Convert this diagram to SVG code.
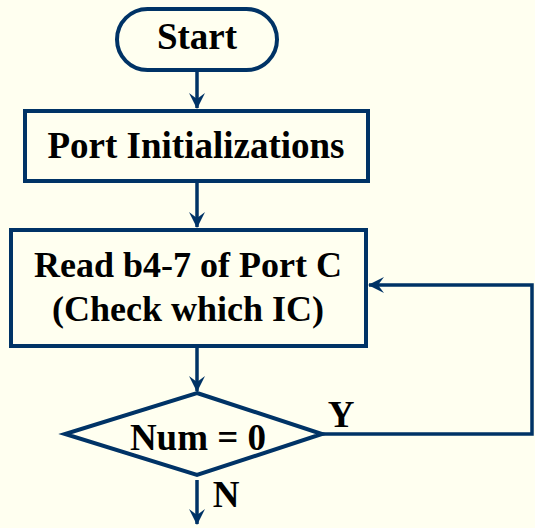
<svg xmlns="http://www.w3.org/2000/svg" width="535" height="528" viewBox="0 0 535 528">
  <style>
    .shape { fill: #FFFFF0; stroke: #003366; stroke-width: 4; }
    .wire { fill: none; stroke: #003366; stroke-width: 3.5; }
    .label { font-family: "Liberation Serif", "Times New Roman", serif; font-weight: bold; font-size: 37px; fill: #000; }
    .small { font-size: 36px; }
  </style>
  <defs>
    <marker id="arrow" markerUnits="userSpaceOnUse" markerWidth="20" markerHeight="20" viewBox="-16 -10 18 20" refX="0" refY="0" orient="auto">
      <path d="M1,0 L-15,-8 L-9,0 L-15,8 Z" fill="#003366"/>
    </marker>
  </defs>
  <rect width="535" height="528" fill="#FFFFF0"/>

  <g id="connectors">
    <line class="wire" x1="197" y1="70" x2="197" y2="108" marker-end="url(#arrow)"/>
    <line class="wire" x1="197" y1="181" x2="197" y2="227" marker-end="url(#arrow)"/>
    <line class="wire" x1="197" y1="346" x2="197" y2="391" marker-end="url(#arrow)"/>
    <line class="wire" x1="197" y1="480" x2="197" y2="524" marker-end="url(#arrow)"/>
    <polyline class="wire" points="322,434 532,434 532,285 369,285" marker-end="url(#arrow)"/>
  </g>

  <g id="start">
    <rect class="shape" x="117" y="9" width="160" height="61" rx="30.5" ry="30.5" stroke-width="3.5"/>
    <text class="label" x="197" y="49" text-anchor="middle">Start</text>
  </g>

  <g id="port-init">
    <rect class="shape" x="25" y="111" width="343" height="70"/>
    <text class="label" x="196" y="158" text-anchor="middle">Port Initializations</text>
  </g>

  <g id="read-port">
    <rect class="shape" x="11" y="230" width="355" height="116"/>
    <text class="label small" x="188" y="277" text-anchor="middle">Read b4-7 of Port C</text>
    <text class="label small" x="188" y="321" text-anchor="middle">(Check which IC)</text>
  </g>

  <g id="decision">
    <polygon class="shape" points="197,393 322,434 197,475 65,434" stroke-width="3.5"/>
    <text class="label" x="198" y="450" text-anchor="middle">Num = 0</text>
  </g>

  <g id="branch-labels">
    <text class="label" x="341" y="427" text-anchor="middle">Y</text>
    <text class="label" x="226" y="507" text-anchor="middle">N</text>
  </g>
</svg>
